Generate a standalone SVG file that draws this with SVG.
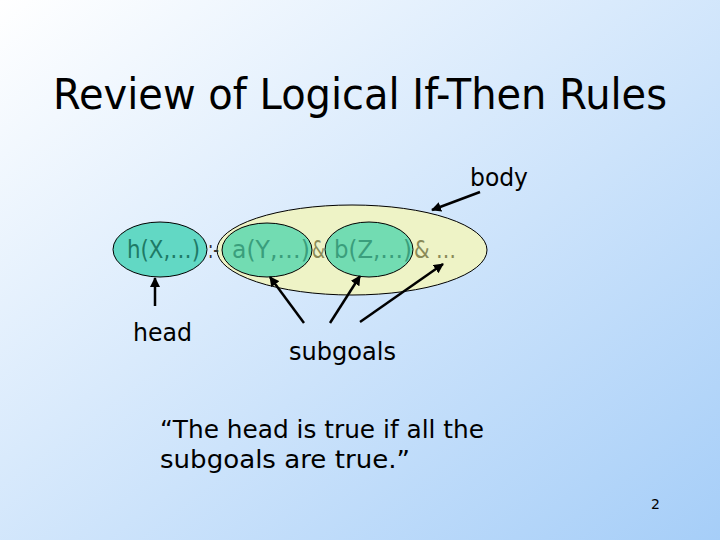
<svg xmlns="http://www.w3.org/2000/svg" width="720" height="540" viewBox="0 0 720 540">
<defs>
<linearGradient id="bg" x1="0" y1="0" x2="1" y2="1">
<stop offset="0" stop-color="#ffffff"/>
<stop offset="1" stop-color="#a6cef8"/>
</linearGradient>
<marker id="ah" viewBox="0 0 10 10" refX="9" refY="5" markerWidth="4" markerHeight="4" orient="auto" markerUnits="strokeWidth">
<path d="M0,0 L10,5 L0,10 z" fill="#000"/>
</marker>
<style>
text{font-family:"DejaVu Sans","Liberation Sans",sans-serif;}
.lbl{font-size:24px;fill:#000;}
.f{font-size:24px;}
.c{stroke:#000;stroke-width:2.5;fill:none;marker-end:url(#ah);}
.ov{stroke:#000;stroke-width:1;}
</style>
</defs>
<rect width="720" height="540" fill="url(#bg)"/>
<text x="360" y="109" font-size="42" text-anchor="middle" textLength="614" lengthAdjust="spacingAndGlyphs">Review of Logical If-Then Rules</text>
<g id="body-ellipse"><ellipse cx="352" cy="250" rx="135" ry="45" fill="#eef3c6" class="ov"/></g>
<g id="head-node"><ellipse cx="160" cy="249.5" rx="47" ry="27.5" fill="#62d8c4" class="ov"/><text class="f" x="127" y="258" fill="#1e7a66" textLength="73" lengthAdjust="spacingAndGlyphs">h(X,…)</text></g>
<text class="f" x="208" y="258" fill="#333" textLength="11" lengthAdjust="spacingAndGlyphs">:-</text>
<g id="a-node"><ellipse cx="267" cy="250" rx="45" ry="27" fill="#72dcb2" class="ov"/><text class="f" x="232" y="258" fill="#3a9e7c" textLength="78" lengthAdjust="spacingAndGlyphs">a(Y,…)</text></g>
<text class="f" x="312" y="258" fill="#8a8a58" textLength="13" lengthAdjust="spacingAndGlyphs">&amp;</text>
<g id="b-node"><ellipse cx="369" cy="249.5" rx="44" ry="27.5" fill="#72dcb2" class="ov"/><text class="f" x="334" y="258" fill="#3a9e7c" textLength="78" lengthAdjust="spacingAndGlyphs">b(Z,…)</text></g>
<text class="f" x="414" y="258" fill="#8a8a58" textLength="42" lengthAdjust="spacingAndGlyphs">&amp; …</text>
<g id="labels">
<text class="lbl" x="470" y="186" textLength="58" lengthAdjust="spacingAndGlyphs">body</text>
<text class="lbl" x="133" y="341" textLength="59" lengthAdjust="spacingAndGlyphs">head</text>
<text class="lbl" x="289" y="360" textLength="107" lengthAdjust="spacingAndGlyphs">subgoals</text>
<text class="lbl" x="160" y="438" textLength="324" lengthAdjust="spacingAndGlyphs">“The head is true if all the</text>
<text class="lbl" x="160" y="468" textLength="250" lengthAdjust="spacingAndGlyphs">subgoals are true.”</text>
<text x="651" y="509" font-size="14" fill="#000">2</text>
</g>
<g id="connectors">
<line class="c" x1="155" y1="306" x2="155" y2="278"/>
<line class="c" x1="304" y1="323" x2="270" y2="277"/>
<line class="c" x1="330" y1="323" x2="360" y2="276"/>
<line class="c" x1="360" y1="322" x2="443" y2="264"/>
<line class="c" x1="480" y1="192" x2="432" y2="210"/>
</g>
</svg>
